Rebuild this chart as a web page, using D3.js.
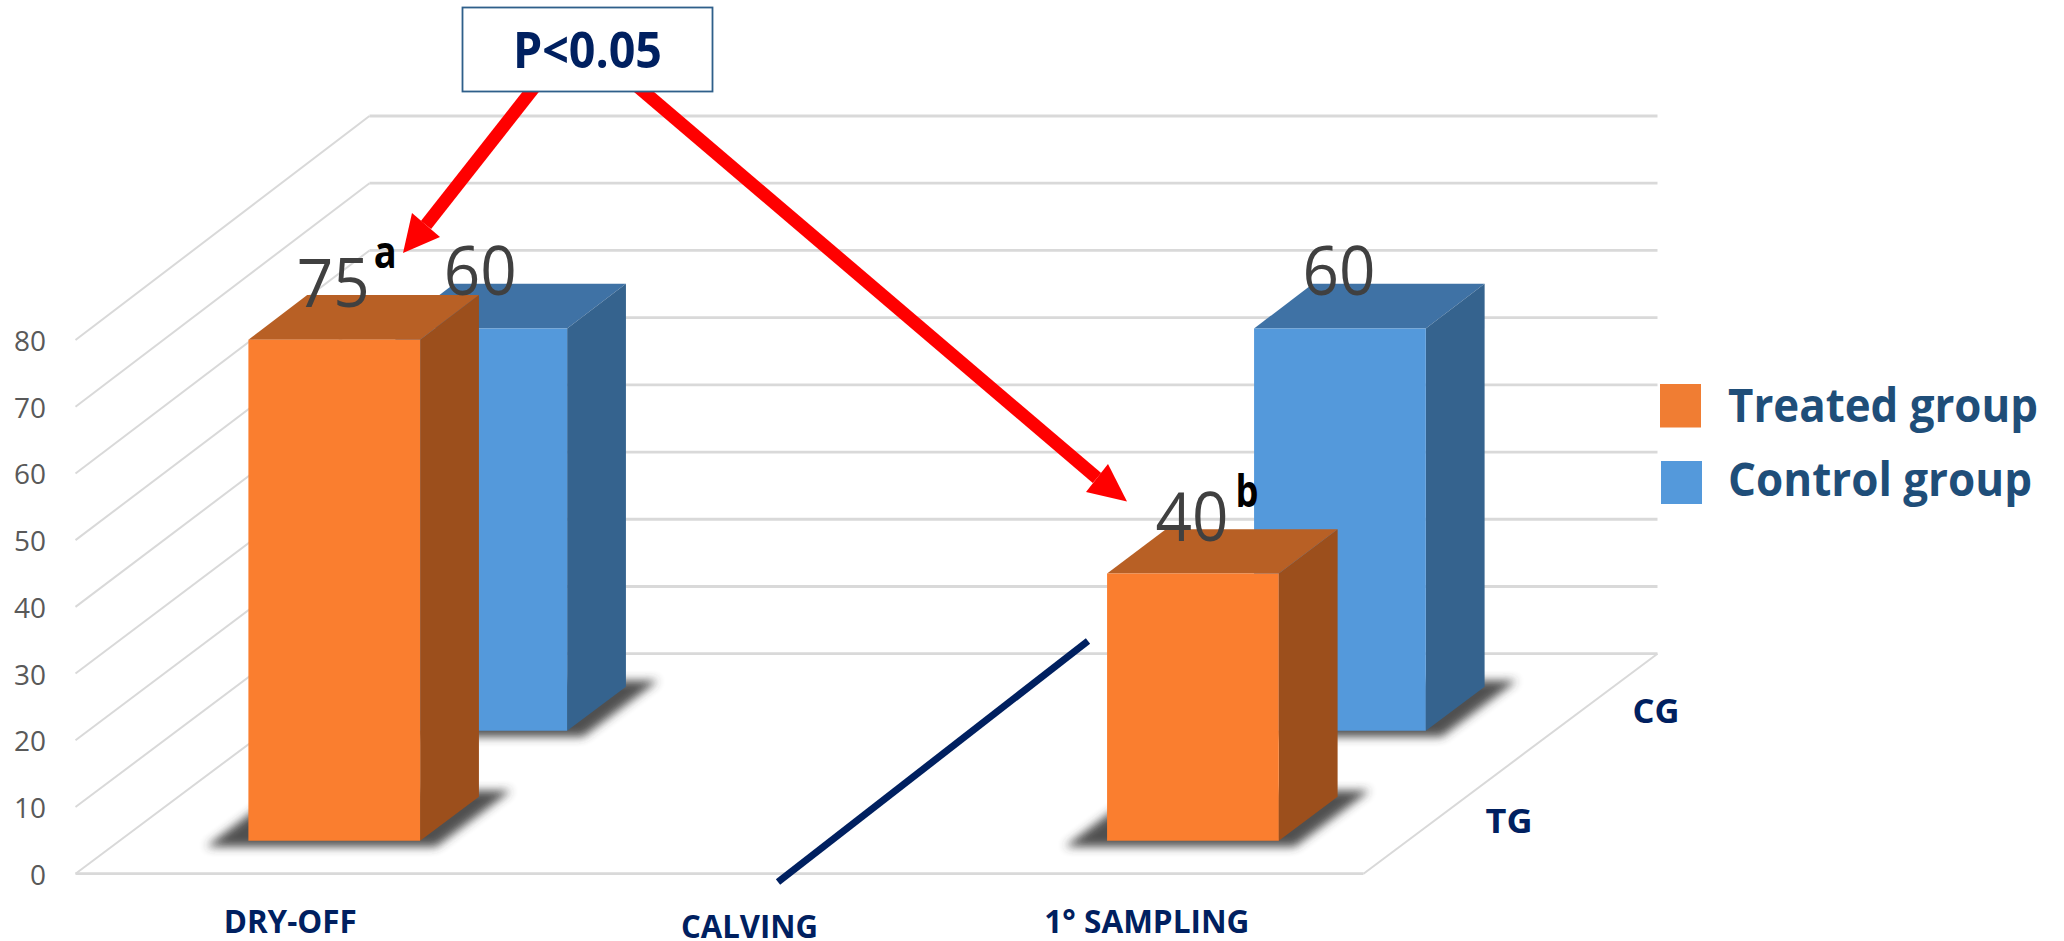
<!DOCTYPE html>
<html>
<head>
<meta charset="utf-8">
<script src="https://cdn.jsdelivr.net/npm/d3@7/dist/d3.min.js"></script>
<style>
  html, body { margin: 0; padding: 0; background: #fff; overflow: hidden; }
  svg { display: block; }
  text { font-family: "Open Sans", "Noto Sans", sans-serif; }
</style>
</head>
<body>
<svg id="chart" width="2064" height="941"></svg>
<script>
// Chart values
const categories = ["DRY-OFF", "CALVING", "1° SAMPLING"];
const seriesKeys = ["TG", "CG"];
const treatedValues = [75, null, 40];
const controlValues = [60, null, 60];
const superscripts = { "DRY-OFF": "a", "1° SAMPLING": "b" };
const yTicks = [0, 10, 20, 30, 40, 50, 60, 70, 80];
const legendLabels = ["Treated group", "Control group"];

const palette = {
  TG: { front: "#FA7E2F", top: "#B86025", side: "#9C4F1C", key: "#F07D33" },
  CG: { front: "#5499DB", top: "#3F72A5", side: "#35638E", key: "#5499DB" }
};
const navy = "#002060";
const gridColor = "#D9D9D9";

// Oblique projection: x along the categories, depth across the floor, value upward.
// Heights grow very slightly toward the back wall.
const originX = 75.5, originY = 873.7;
const floorWidth = 1288, depthDX = 294, depthDY = 220;

const x = d3.scaleBand().domain(categories).range([0, floorWidth])
  .paddingInner(0.6).paddingOuter(0.3);
const depth = d3.scaleBand().domain(seriesKeys).range([0, 1])
  .paddingInner(0.6).paddingOuter(0.3);
const y = d3.scaleLinear().domain([0, 80]).range([0, 533.7]);

const project = (px, d, v) => [
  originX + px + d * depthDX,
  originY - d * depthDY - y(v) * (1 + 0.0075 * d)
];
const pts = list => list.map(p => p.join(",")).join(" ");

const svg = d3.select("#chart");

const defs = svg.append("defs");
defs.append("filter").attr("id", "floorShadow")
  .attr("x", "-20%").attr("y", "-50%").attr("width", "140%").attr("height", "200%")
  .append("feGaussianBlur").attr("stdDeviation", 5);

// Back wall, side wall and floor
const grid = svg.append("g").attr("fill", "none").attr("stroke", gridColor);
yTicks.forEach(t => {
  grid.append("polyline")
    .attr("stroke-width", 2)
    .attr("points", pts([project(0, 0, t), project(0, 1, t)]));
  grid.append("polyline")
    .attr("stroke-width", 2.8)
    .attr("points", pts([project(0, 1, t), project(floorWidth, 1, t)]));
});
grid.append("polyline").attr("stroke-width", 2.8)
  .attr("points", pts([project(0, 0, 0), project(floorWidth, 0, 0)]));
grid.append("polyline").attr("stroke-width", 2)
  .attr("points", pts([project(floorWidth, 0, 0), project(floorWidth, 1, 0)]));

// Value axis labels
const axisLabels = svg.append("g")
  .attr("transform", `translate(46,${originY - 533.7 + 1.5})`)
  .call(d3.axisLeft(d3.scaleLinear().domain([80, 0]).range([0, 533.7]))
    .tickValues(yTicks).tickSize(0).tickPadding(0));
axisLabels.select(".domain").remove();
axisLabels.selectAll("text")
  .attr("font-family", '"Open Sans", sans-serif')
  .attr("font-size", 28).attr("fill", "#595959")
  .attr("textLength", function () { return this.textContent.length * 16; })
  .attr("lengthAdjust", "spacingAndGlyphs");

// One record per bar, painted back to front
const bars = [];
[["CG", controlValues], ["TG", treatedValues]].forEach(([key, values]) => {
  categories.forEach((c, i) => {
    if (values[i] !== null) bars.push({ key, category: c, value: values[i] });
  });
});

const barLayer = svg.append("g");
bars.forEach(b => {
  const x0 = x(b.category), x1 = x0 + x.bandwidth();
  const d0 = depth(b.key), d1 = d0 + depth.bandwidth();
  const col = palette[b.key];

  barLayer.append("polygon")
    .attr("fill", "#333").attr("opacity", 0.85)
    .attr("filter", "url(#floorShadow)")
    .attr("points", pts([
      project(x0 - 34, d0 - 0.028, 0),
      project(x1 + 24, d0 - 0.028, 0),
      project(x1 + 24, d1 + 0.028, 0),
      project(x0 - 34, d1 + 0.028, 0)
    ]));

  barLayer.append("polygon").attr("fill", col.top)
    .attr("points", pts([project(x0, d0, b.value), project(x1, d0, b.value),
                         project(x1, d1, b.value), project(x0, d1, b.value)]));
  barLayer.append("polygon").attr("fill", col.side)
    .attr("points", pts([project(x1, d0, 0), project(x1, d1, 0),
                         project(x1, d1, b.value), project(x1, d0, b.value)]));
  barLayer.append("polygon").attr("fill", col.front)
    .attr("points", pts([project(x0, d0, 0), project(x1, d0, 0),
                         project(x1, d0, b.value), project(x0, d0, b.value)]));
});

// Helper for text fitted to a given run length
function label(parent, str, px, py, size, weight, fill, len, anchor) {
  return parent.append("text").text(str)
    .attr("x", px).attr("y", py)
    .attr("font-size", size).attr("font-weight", weight).attr("fill", fill)
    .attr("text-anchor", anchor || "middle")
    .attr("textLength", len).attr("lengthAdjust", "spacingAndGlyphs");
}

// Calving marker on the floor
svg.append("line").attr("stroke", navy).attr("stroke-width", 7)
  .attr("x1", 778).attr("y1", 882).attr("x2", 1088).attr("y2", 641);

// Value labels with significance letters
const labelLayer = svg.append("g");
bars.forEach(b => {
  const [cx, top] = project(x(b.category) + x.bandwidth() / 2, depth(b.key), b.value);
  label(labelLayer, b.value, cx - 1, top - 33, 68, 400, "#404040", 73);
  if (b.key === "TG" && superscripts[b.category]) {
    const isA = superscripts[b.category] === "a";
    label(labelLayer, superscripts[b.category], cx + (isA ? 51 : 54), top - (isA ? 72 : 67),
          44, 700, "#000", 23);
  }
});

// Category labels
const categoryOffsets = { "DRY-OFF": [0, 933], "CALVING": [30, 938], "1° SAMPLING": [-2, 933] };
const categoryWidths = { "DRY-OFF": 133, "CALVING": 137, "1° SAMPLING": 205 };
categories.forEach(c => {
  label(svg, c, originX + x(c) + x.bandwidth() / 2 + categoryOffsets[c][0], categoryOffsets[c][1],
        32, 700, navy, categoryWidths[c]);
});

// Series labels beside the floor edge
seriesKeys.forEach(k => {
  const [ex, ey] = project(floorWidth, depth(k) + depth.bandwidth() / 2, 0);
  label(svg, k, ex + 72, ey + 14, 34, 700, navy, 47);
});

// Legend
legendLabels.forEach((t, i) => {
  const key = seriesKeys[i];
  svg.append("rect").attr("fill", palette[key].key)
    .attr("x", i ? 1661 : 1660).attr("y", i ? 461 : 384).attr("width", 41).attr("height", i ? 43 : 43.5);
  label(svg, t, 1728, i ? 496 : 421.7, 46, 700, "#1F4E79", i ? 304 : 310, "start");
});

// Arrows run up under the P-value box, which is painted over their tails
const arrows = [
  { from: [540, 80], neck: [426, 225], head: [[412, 213], [440, 237], [403, 253]] },
  { from: [630, 80], neck: [1097, 478], head: [[1108, 464], [1086, 492], [1127, 501.5]] }
];
arrows.forEach(a => {
  svg.append("line").attr("stroke", "#FF0000").attr("stroke-width", 13)
    .attr("x1", a.from[0]).attr("y1", a.from[1]).attr("x2", a.neck[0]).attr("y2", a.neck[1]);
  svg.append("polygon").attr("fill", "#FF0000").attr("points", pts(a.head));
});

svg.append("rect").attr("x", 462.5).attr("y", 7.5).attr("width", 250).attr("height", 84)
  .attr("fill", "#fff").attr("stroke", "#2F5F8A").attr("stroke-width", 1.8);
label(svg, "P<0.05", 587.5, 68, 50, 700, navy, 149);
</script>
</body>
</html>
